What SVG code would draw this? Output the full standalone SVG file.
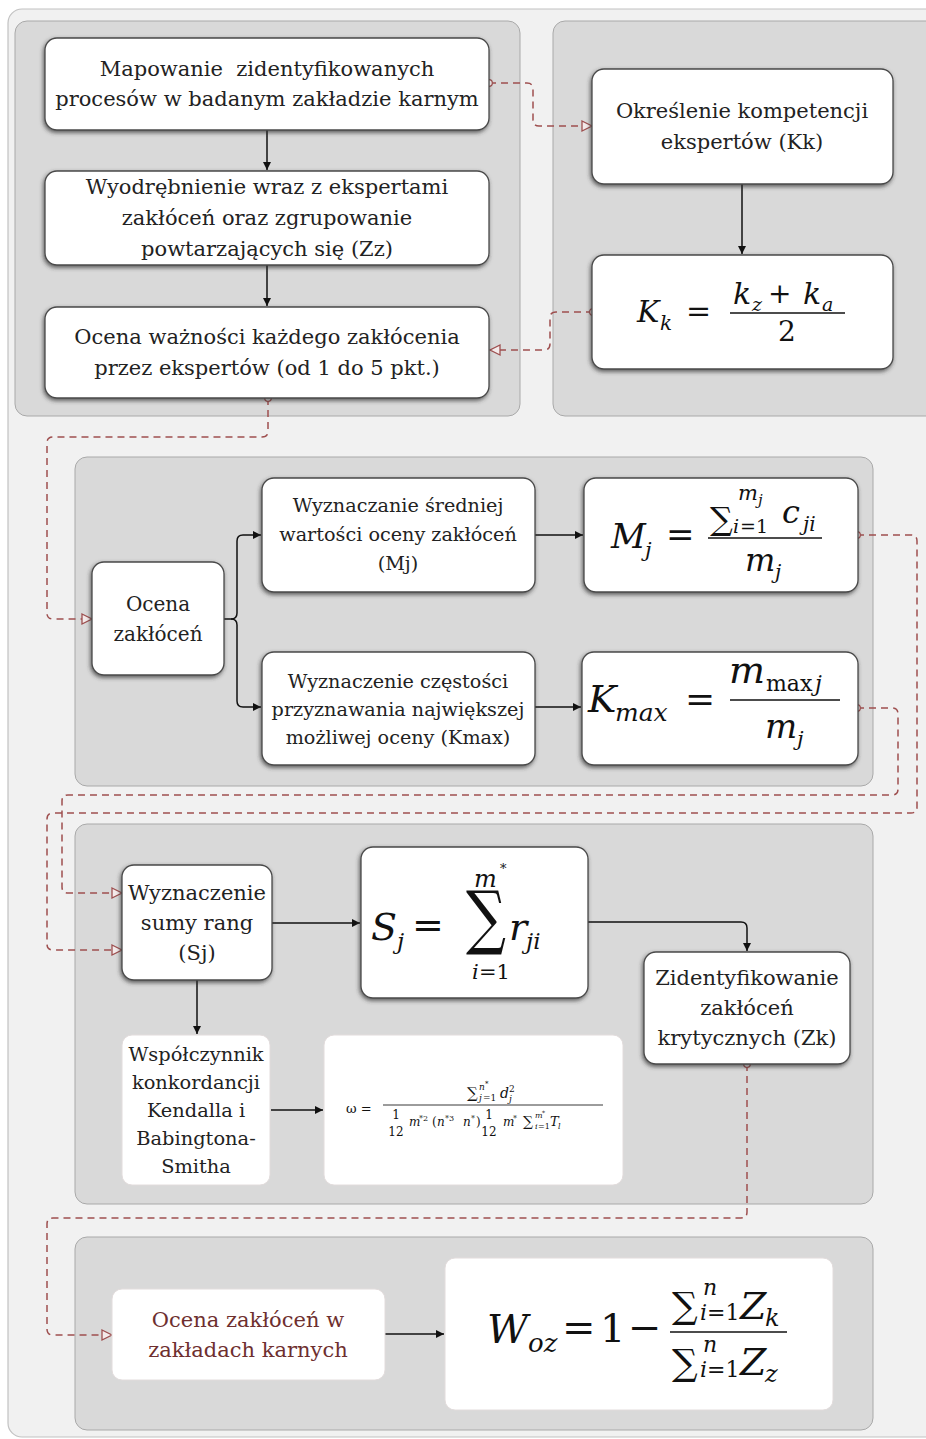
<svg xmlns="http://www.w3.org/2000/svg" width="926" height="1439" viewBox="0 0 926 1439">
<defs>
<style>
.frame{fill:#f1f1f1;stroke:#c2c2c2;stroke-width:1.2}
.panel{fill:#d9d9d9;stroke:#a9a9a9;stroke-width:1}
.box{fill:#fff;stroke:#4a4a4a;stroke-width:1.3;filter:url(#sh)}
.flat{fill:#fff;stroke:#e2dcdc;stroke-width:1}
.t{font-family:"DejaVu Serif","Liberation Serif",serif;font-size:21px;fill:#222;text-anchor:middle}
.s19{font-size:19.2px}
.s20{font-size:20px}
.s194{font-size:19.4px}
.red{fill:#6e2f2f}
.m{font-family:"DejaVu Serif","Liberation Serif",serif;fill:#111}
.i{font-style:italic}
.solid{stroke:#111;stroke-width:1.5;fill:none;marker-end:url(#ah)}
.nomk{stroke:#111;stroke-width:1.5;fill:none}
.dash{stroke:#9e4f4f;stroke-width:1.5;fill:none;stroke-dasharray:7 5;marker-start:url(#dot);marker-end:url(#tri)}
.bar{stroke:#111;stroke-width:1.6}
</style>
<filter id="sh" x="-10%" y="-10%" width="120%" height="125%">
<feDropShadow dx="-1" dy="2" stdDeviation="2" flood-color="#333" flood-opacity="0.75"/>
</filter>
<marker id="ah" markerWidth="10" markerHeight="10" refX="8" refY="4" orient="auto" markerUnits="userSpaceOnUse">
<path d="M0,0 L8,4 L0,8 z" fill="#111"/>
</marker>
<marker id="tri" markerWidth="14" markerHeight="14" refX="11" refY="6" orient="auto" markerUnits="userSpaceOnUse">
<path d="M1,1 L11,6 L1,11 z" fill="#f4eaea" stroke="#9e4f4f" stroke-width="1.3"/>
</marker>
<marker id="dot" markerWidth="10" markerHeight="10" refX="5" refY="5" orient="auto" markerUnits="userSpaceOnUse">
<circle cx="5" cy="5" r="3.3" fill="#fff" stroke="#9e4f4f" stroke-width="1.3"/>
</marker>
</defs>

<rect class="frame" x="8" y="9" width="940" height="1428" rx="14"/>

<g id="panels">
<rect class="panel" x="15" y="21" width="505" height="395" rx="12"/>
<rect class="panel" x="553" y="21" width="400" height="395" rx="12"/>
<rect class="panel" x="75" y="457" width="798" height="329" rx="12"/>
<rect class="panel" x="75" y="824" width="798" height="380" rx="12"/>
<rect class="panel" x="75" y="1237" width="798" height="193" rx="12"/>
</g>

<g id="connectors">
<path class="solid" d="M267,130 V170"/>
<path class="solid" d="M267,265 V306"/>
<path class="solid" d="M742,184 V254"/>
<path class="nomk" d="M224,619 H231"/>
<path class="solid" d="M231,619 Q237,619 237,613 V541 Q237,535 243,535 H261"/>
<path class="solid" d="M231,619 Q237,619 237,625 V701 Q237,707 243,707 H261"/>
<path class="solid" d="M535,535 H583"/>
<path class="solid" d="M535,707 H581"/>
<path class="solid" d="M272,923 H360"/>
<path class="solid" d="M588,922 H741 Q747,922 747,928 V951"/>
<path class="solid" d="M197,980 V1034"/>
<path class="solid" d="M271,1110 H323"/>
<path class="solid" d="M385,1334 H444"/>
<path class="dash" d="M489,83 H527 Q533,83 533,89 V120 Q533,126 539,126 H592"/>
<path class="dash" d="M593,312 H556 Q550,312 550,318 V344 Q550,350 544,350 H490"/>
<path class="dash" d="M268,398 V431 Q268,437 262,437 H53 Q47,437 47,443 V613 Q47,619 53,619 H92"/>
<path class="dash" d="M857,535 H911 Q917,535 917,541 V807 Q917,813 911,813 H53 Q47,813 47,819 V944 Q47,950 53,950 H122"/>
<path class="dash" d="M857,708 H892 Q898,708 898,714 V789 Q898,795 892,795 H68 Q62,795 62,801 V887 Q62,893 68,893 H122"/>
<path class="dash" d="M747,1064 V1212 Q747,1218 741,1218 H53 Q47,1218 47,1224 V1329 Q47,1335 53,1335 H112"/>
</g>

<g id="n1">
<rect class="box" x="45" y="38" width="444" height="92" rx="12"/>
<text class="t" x="267" y="76" style="white-space:pre">Mapowanie  zidentyfikowanych</text>
<text class="t" x="267" y="106">procesów w badanym zakładzie karnym</text>
</g>
<g id="n2">
<rect class="box" x="45" y="171" width="444" height="94" rx="12"/>
<text class="t" x="267" y="194">Wyodrębnienie wraz z ekspertami</text>
<text class="t" x="267" y="225">zakłóceń oraz zgrupowanie</text>
<text class="t" x="267" y="256">powtarzających się (Zz)</text>
</g>
<g id="n3">
<rect class="box" x="45" y="307" width="444" height="91" rx="12"/>
<text class="t" x="267" y="344">Ocena ważności każdego zakłócenia</text>
<text class="t" x="267" y="375">przez ekspertów (od 1 do 5 pkt.)</text>
</g>
<g id="n4">
<rect class="box" x="592" y="69" width="301" height="115" rx="12"/>
<text class="t" x="742" y="118">Określenie kompetencji</text>
<text class="t" x="742" y="149">ekspertów (Kk)</text>
</g>
<g id="n5">
<rect class="box" x="592" y="255" width="301" height="114" rx="12"/>
<text class="m i" x="637" y="322" font-size="30">K</text>
<text class="m i" x="660" y="330" font-size="20">k</text>
<text class="m" x="686" y="321" font-size="30">=</text>
<text class="m i" x="733" y="304" font-size="30">k</text>
<text class="m i" x="752" y="311" font-size="19">z</text>
<text class="m" x="768" y="303" font-size="28">+</text>
<text class="m i" x="803" y="304" font-size="30">k</text>
<text class="m i" x="822" y="311" font-size="19">a</text>
<line class="bar" x1="730" y1="313" x2="845" y2="313"/>
<text class="m" x="787" y="341" font-size="28" text-anchor="middle">2</text>
</g>
<g id="n6">
<rect class="box" x="92" y="562" width="132" height="113" rx="12"/>
<text class="t s20" x="158" y="611">Ocena</text>
<text class="t s20" x="158" y="641">zakłóceń</text>
</g>
<g id="n7">
<rect class="box" x="262" y="478" width="273" height="114" rx="12"/>
<text class="t s19" x="398" y="512">Wyznaczanie średniej</text>
<text class="t s19" x="398" y="541">wartości oceny zakłóceń</text>
<text class="t s19" x="398" y="570">(Mj)</text>
</g>
<g id="n8">
<rect class="box" x="584" y="478" width="274" height="114" rx="12"/>
<text class="m i" x="611" y="548" font-size="34">M</text>
<text class="m i" x="645" y="557" font-size="21">j</text>
<text class="m" x="666" y="546" font-size="34">=</text>
<text class="m" x="710" y="530" font-size="32">∑</text>
<text class="m i" x="738" y="500" font-size="21">m</text>
<text class="m i" x="758" y="505" font-size="15">j</text>
<text class="m i" x="733" y="533" font-size="19">i</text>
<text class="m" x="740" y="533" font-size="19">=1</text>
<text class="m i" x="782" y="523" font-size="32">c</text>
<text class="m i" x="803" y="531" font-size="20">ji</text>
<line class="bar" x1="708" y1="538" x2="822" y2="538"/>
<text class="m i" x="745" y="571" font-size="32">m</text>
<text class="m i" x="775" y="579" font-size="20">j</text>
</g>
<g id="n9">
<rect class="box" x="262" y="652" width="273" height="113" rx="12"/>
<text class="t s19" x="398" y="688">Wyznaczenie częstości</text>
<text class="t s19" x="398" y="716">przyznawania największej</text>
<text class="t s19" x="398" y="744">możliwej oceny (Kmax)</text>
</g>
<g id="n10">
<rect class="box" x="582" y="652" width="276" height="113" rx="12"/>
<text class="m i" x="588" y="712" font-size="38">K</text>
<text class="m i" x="615" y="721" font-size="25">max</text>
<text class="m" x="685" y="711" font-size="36">=</text>
<text class="m i" x="729" y="683" font-size="38">m</text>
<text class="m" x="766" y="691" font-size="22">max</text>
<text class="m i" x="815" y="691" font-size="22">j</text>
<line class="bar" x1="730" y1="700" x2="840" y2="700"/>
<text class="m i" x="765" y="738" font-size="34">m</text>
<text class="m i" x="797" y="746" font-size="21">j</text>
</g>
<g id="n11">
<rect class="box" x="122" y="865" width="150" height="115" rx="12"/>
<text class="t" x="197" y="900">Wyznaczenie</text>
<text class="t" x="197" y="930">sumy rang</text>
<text class="t" x="197" y="960">(Sj)</text>
</g>
<g id="n12">
<rect class="box" x="361" y="847" width="227" height="151" rx="12"/>
<text class="m i" x="371" y="940" font-size="38">S</text>
<text class="m i" x="397" y="949" font-size="23">j</text>
<text class="m" x="412" y="938" font-size="38">=</text>
<text class="m" x="0" y="0" font-size="70" transform="translate(466,941) scale(0.8,1)">∑</text>
<text class="m i" x="474" y="887" font-size="24">m</text>
<text class="m" x="500" y="873" font-size="13">*</text>
<text class="m i" x="472" y="979" font-size="21">i</text>
<text class="m" x="479" y="979" font-size="21">=1</text>
<text class="m i" x="509" y="940" font-size="38">r</text>
<text class="m i" x="526" y="949" font-size="23">ji</text>
</g>
<g id="n13">
<rect class="box" x="644" y="952" width="206" height="112" rx="12"/>
<text class="t" x="747" y="985">Zidentyfikowanie</text>
<text class="t" x="747" y="1015">zakłóceń</text>
<text class="t" x="747" y="1045">krytycznych (Zk)</text>
</g>
<g id="n14">
<rect class="flat" x="122" y="1035" width="148" height="150" rx="10"/>
<text class="t s194" x="196" y="1061">Współczynnik</text>
<text class="t s194" x="196" y="1089">konkordancji</text>
<text class="t s194" x="196" y="1117">Kendalla i</text>
<text class="t s194" x="196" y="1145">Babingtona-</text>
<text class="t s194" x="196" y="1173">Smitha</text>
</g>
<g id="n15">
<rect class="flat" x="324" y="1035" width="299" height="150" rx="10"/>
<text class="m" x="346" y="1113" font-size="13">ω =</text>
<text class="m" x="467" y="1098" font-size="15">∑</text>
<text class="m i" x="479" y="1090" font-size="9">n</text>
<text class="m" x="485" y="1086" font-size="7">*</text>
<text class="m i" x="479" y="1101" font-size="9">j</text>
<text class="m" x="483" y="1101" font-size="9">=1</text>
<text class="m i" x="500" y="1098" font-size="14">d</text>
<text class="m i" x="509" y="1102" font-size="9">j</text>
<text class="m" x="509" y="1092" font-size="9">2</text>
<line x1="383" y1="1105" x2="603" y2="1105" stroke="#222" stroke-width="0.9"/>
<text class="m" x="396" y="1119" font-size="12" text-anchor="middle">1</text>
<text class="m" x="396" y="1136" font-size="12" text-anchor="middle">12</text>
<text class="m i" x="409" y="1126" font-size="12">m</text>
<text class="m" x="419" y="1121" font-size="8">*2</text>
<text class="m" x="432" y="1126" font-size="12">(</text>
<text class="m i" x="437" y="1126" font-size="12">n</text>
<text class="m" x="445" y="1121" font-size="8">*3</text>
<text class="m i" x="463" y="1126" font-size="12">n</text>
<text class="m" x="471" y="1121" font-size="8">*</text>
<text class="m" x="476" y="1126" font-size="12">)</text>
<text class="m" x="489" y="1119" font-size="12" text-anchor="middle">1</text>
<text class="m" x="489" y="1136" font-size="12" text-anchor="middle">12</text>
<text class="m i" x="503" y="1126" font-size="12">m</text>
<text class="m" x="513" y="1121" font-size="8">*</text>
<text class="m" x="523" y="1126" font-size="14">∑</text>
<text class="m i" x="535" y="1118" font-size="8">m</text>
<text class="m" x="542" y="1115" font-size="6">*</text>
<text class="m i" x="535" y="1129" font-size="8">i</text>
<text class="m" x="538" y="1129" font-size="8">=1</text>
<text class="m i" x="550" y="1126" font-size="13">T</text>
<text class="m i" x="558" y="1129" font-size="8">l</text>
</g>
<g id="n16">
<rect class="flat" x="112" y="1289" width="273" height="91" rx="10"/>
<text class="t red" x="248" y="1327">Ocena zakłóceń w</text>
<text class="t red" x="248" y="1357">zakładach karnych</text>
</g>
<g id="n17">
<rect class="flat" x="445" y="1258" width="388" height="152" rx="10"/>
<text class="m i" x="487" y="1343" font-size="40">W</text>
<text class="m i" x="528" y="1352" font-size="26">oz</text>
<text class="m" x="562" y="1341" font-size="40">=</text>
<text class="m" x="600" y="1342" font-size="40">1</text>
<text class="m" x="628" y="1341" font-size="40">−</text>
<text class="m" x="672" y="1318" font-size="36">∑</text>
<text class="m i" x="703" y="1295" font-size="22">n</text>
<text class="m i" x="700" y="1320" font-size="22">i</text>
<text class="m" x="707" y="1320" font-size="22">=1</text>
<text class="m i" x="740" y="1319" font-size="38">Z</text>
<text class="m i" x="765" y="1326" font-size="24">k</text>
<line class="bar" x1="670" y1="1332" x2="787" y2="1332"/>
<text class="m" x="672" y="1375" font-size="36">∑</text>
<text class="m i" x="703" y="1352" font-size="22">n</text>
<text class="m i" x="700" y="1377" font-size="22">i</text>
<text class="m" x="707" y="1377" font-size="22">=1</text>
<text class="m i" x="740" y="1375" font-size="38">Z</text>
<text class="m i" x="765" y="1382" font-size="24">z</text>
</g>
</svg>
